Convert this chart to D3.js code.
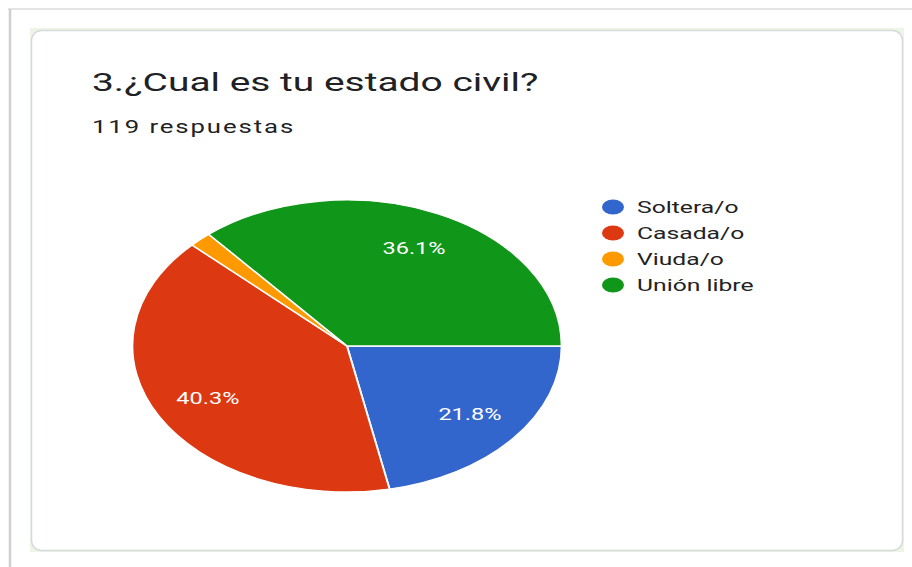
<!DOCTYPE html>
<html>
<head>
<meta charset="utf-8">
<script src="https://cdn.jsdelivr.net/npm/d3@7"></script>
<style>
  html, body { margin: 0; padding: 0; background: #ffffff; }
  svg { display: block; }
  text { font-family: Roboto, "Noto Sans", Arial, sans-serif; }
</style>
</head>
<body>
<svg id="chart" width="912" height="567"></svg>
<script>
// Survey question and answer breakdown
const title = "3.¿Cual es tu estado civil?";
const subtitle = "119 respuestas";
const categories = ["Soltera/o", "Casada/o", "Viuda/o", "Unión libre"];
const percents = [21.8, 40.3, 1.7, 36.1];
const colors = ["#3366cc", "#dc3912", "#ff9900", "#109618"];

const W = 912, H = 567;
const SX = 1.47; // horizontal stretch of the chart contents

const svg = d3.select("#chart");

// page frame with soft edge lines
svg.append("rect").attr("x", 0).attr("y", 0).attr("width", W).attr("height", H).attr("fill", "#ffffff");
svg.append("line").attr("x1", 8).attr("x2", W).attr("y1", 9).attr("y2", 9)
  .attr("stroke", "#e4e4e4").attr("stroke-width", 2);
svg.append("line").attr("x1", 10).attr("x2", 10).attr("y1", 9).attr("y2", H)
  .attr("stroke", "#cfcfcf").attr("stroke-width", 2.5);

// card
svg.append("rect").attr("x", 30).attr("y", 28).attr("width", 874).attr("height", 524)
  .attr("fill", "#edf5e6");
svg.append("rect").attr("x", 31.5).attr("y", 30.5).attr("width", 871).attr("height", 520)
  .attr("rx", 10).attr("ry", 10)
  .attr("fill", "#ffffff").attr("stroke", "#d7d9dc").attr("stroke-width", 1.5);

// chart contents, stretched horizontally
const g = svg.append("g").attr("transform", `scale(${SX},1)`);
const px = x => x / SX;

g.append("text").attr("x", px(92)).attr("y", 91)
  .attr("font-size", 26.5).attr("fill", "#202124").text(title);
g.append("text").attr("x", px(92)).attr("y", 133.5)
  .attr("font-size", 17.5).attr("letter-spacing", 1.3).attr("fill", "#202124").text(subtitle);

// pie
const cx = px(347), cy = 346, R = 146;
const pie = d3.pie().sort(null).value(d => d)
  .startAngle(Math.PI / 2).endAngle(Math.PI / 2 + 2 * Math.PI);
const arcs = pie(percents);
const arc = d3.arc().innerRadius(0).outerRadius(R);
const labelArc = d3.arc().innerRadius(R * 0.74).outerRadius(R * 0.74);

const pg = g.append("g").attr("transform", `translate(${cx},${cy})`);
pg.selectAll("path").data(arcs).join("path")
  .attr("d", arc)
  .attr("fill", (d, i) => colors[i])
  .attr("stroke", "#ffffff").attr("stroke-width", 1.3);

pg.selectAll("text").data(arcs.filter(d => d.data >= 5)).join("text")
  .attr("transform", d => `translate(${labelArc.centroid(d)})`)
  .attr("text-anchor", "middle").attr("dy", "0.36em")
  .attr("font-size", 16).attr("fill", "#ffffff")
  .text(d => d3.format(".1f")(d.data) + "%");

// legend
const lg = g.append("g");
const items = lg.selectAll("g").data(categories).join("g")
  .attr("transform", (d, i) => `translate(${px(613)},${207 + i * 26})`);
items.append("circle").attr("r", 7.5).attr("fill", (d, i) => colors[i]);
items.append("text").attr("x", px(637) - px(613)).attr("dy", "0.36em")
  .attr("font-size", 16.8).attr("fill", "#222222").text(d => d);
</script>
</body>
</html>
